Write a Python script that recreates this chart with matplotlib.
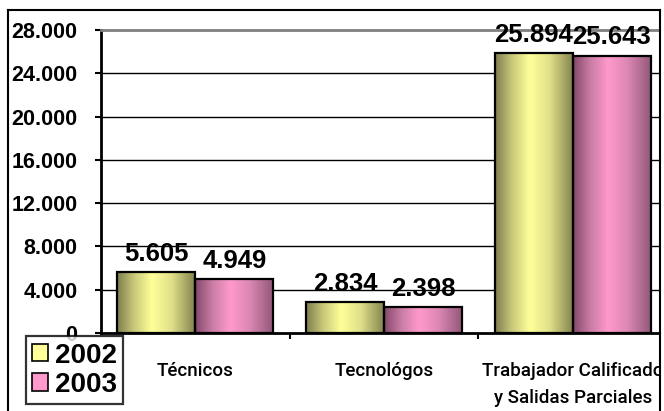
import numpy as np
import matplotlib
matplotlib.use("Agg")
import matplotlib.pyplot as plt
from matplotlib.colors import LinearSegmentedColormap
from matplotlib.patches import Rectangle
from matplotlib.lines import Line2D
from matplotlib.ticker import FuncFormatter

categories = ["Técnicos", "Tecnológos", "Trabajador Calificado\ny Salidas Parciales"]
series_names = ["2002", "2003"]
values_2002 = [5605, 2834, 25894]
values_2003 = [4949, 2398, 25643]
y_ticks = [0, 4000, 8000, 12000, 16000, 20000, 24000, 28000]

W, H = 664, 411
fig = plt.figure(figsize=(W / 100, H / 100), dpi=100)
fig.patch.set_facecolor("white")

bold_font = ["Liberation Sans", "DejaVu Sans"]
narrow_font = ["Roboto", "Liberation Sans", "DejaVu Sans"]

ax = fig.add_axes([101 / W, 78 / H, (667 - 101) / W, (333 - 30) / H])
ax.set_facecolor("white")
ax.set_xlim(-0.5, 2.5)
ax.set_ylim(0, 28000)

grad_specs = {
    "2002": ["#7e7e4e", "#c9c97a", "#ffff99", "#e0e08a", "#85854f"],
    "2003": ["#84486a", "#c97ca4", "#ff99cc", "#dc88b4", "#93587a"],
}
solid = {"2002": "#ffff99", "2003": "#ff99cc"}

x = np.arange(len(categories))
bw = 0.413
for k, (name, vals) in enumerate(zip(series_names, [values_2002, values_2003])):
    offs = -bw / 2 if k == 0 else bw / 2
    bars = ax.bar(x + offs, vals, width=bw, facecolor="none", edgecolor="black",
                  linewidth=1.6, zorder=4)
    cmap = LinearSegmentedColormap.from_list(
        name, list(zip([0, 0.22, 0.45, 0.7, 1.0], grad_specs[name])))
    grad = np.linspace(0, 1, 256).reshape(1, -1)
    for b, v in zip(bars, vals):
        x0 = b.get_x()
        x1 = x0 + b.get_width()
        im = ax.imshow(grad, cmap=cmap, extent=(x0, x1, 0, v), aspect="auto",
                       interpolation="bilinear", zorder=3)
        im.set_clip_path(b)
        lab = f"{v:,}".replace(",", ".")
        ax.annotate(lab, xy=(x0 + b.get_width() / 2, v), xytext=(0, 8),
                    textcoords="offset points", ha="center", va="baseline",
                    fontsize=18.5, fontweight="bold", family=bold_font, zorder=6)

ax.set_xlim(-0.5, 2.5)
ax.set_ylim(0, 28000)

ax.set_yticks(y_ticks)
ax.yaxis.set_major_formatter(FuncFormatter(lambda v, p: f"{int(v):,}".replace(",", ".")))
for t in y_ticks[1:-1]:
    ax.axhline(t, color="black", linewidth=1.0, zorder=1)

for lbl in ax.get_yticklabels():
    lbl.set_fontweight("bold")
    lbl.set_family(bold_font)
    lbl.set_fontsize(15.5)
ax.tick_params(axis="y", direction="out", length=4, width=1.5, pad=13)

ax.set_xticks([0.5, 1.5, 2.5])
ax.set_xticklabels([])
ax.set_xticks(x, minor=True)
ax.set_xticklabels(categories, minor=True)
ax.tick_params(axis="x", which="major", direction="out", length=4, width=1.5)
ax.tick_params(axis="x", which="minor", length=0, pad=21)
for lbl in ax.get_xticklabels(minor=True):
    lbl.set_family(narrow_font)
    lbl.set_fontsize(13.5)
    lbl.set_fontweight(500)
    lbl.set_linespacing(1.65)
    lbl.set_verticalalignment("top")

ax.spines["left"].set_linewidth(2)
ax.spines["bottom"].set_linewidth(2)
ax.spines["top"].set_color("#808080")
ax.spines["top"].set_linewidth(2)
ax.spines["right"].set_visible(False)

handles = [Rectangle((0, 0), 1, 1, facecolor=solid[n], edgecolor="black", linewidth=1.2)
           for n in series_names]
leg = fig.legend(handles, series_names, loc="lower left",
                 bbox_to_anchor=(26 / W, 7 / H), frameon=True, fancybox=False,
                 prop={"family": bold_font, "weight": "bold", "size": 20},
                 handlelength=0.58, handleheight=0.58, handletextpad=0.25,
                 labelspacing=0.12, borderpad=0.22, borderaxespad=0)
leg.get_frame().set_edgecolor("black")
leg.get_frame().set_linewidth(1.6)

fig.patches.append(Rectangle((660 / W, 0), 10 / W, 1, transform=fig.transFigure,
                             facecolor="white", edgecolor="none", zorder=20))
for line in [Line2D([7.5 / W, 7.5 / W], [0, 1 - 10 / H]),
             Line2D([7.5 / W, 659.5 / W], [1 - 10 / H, 1 - 10 / H]),
             Line2D([659.5 / W, 659.5 / W], [0, 1 - 10 / H])]:
    line.set_transform(fig.transFigure)
    line.set_color("black")
    line.set_linewidth(1.5)
    line.set_zorder(21)
    fig.lines.append(line)

fig.savefig("out.png", dpi=100, facecolor="white")
